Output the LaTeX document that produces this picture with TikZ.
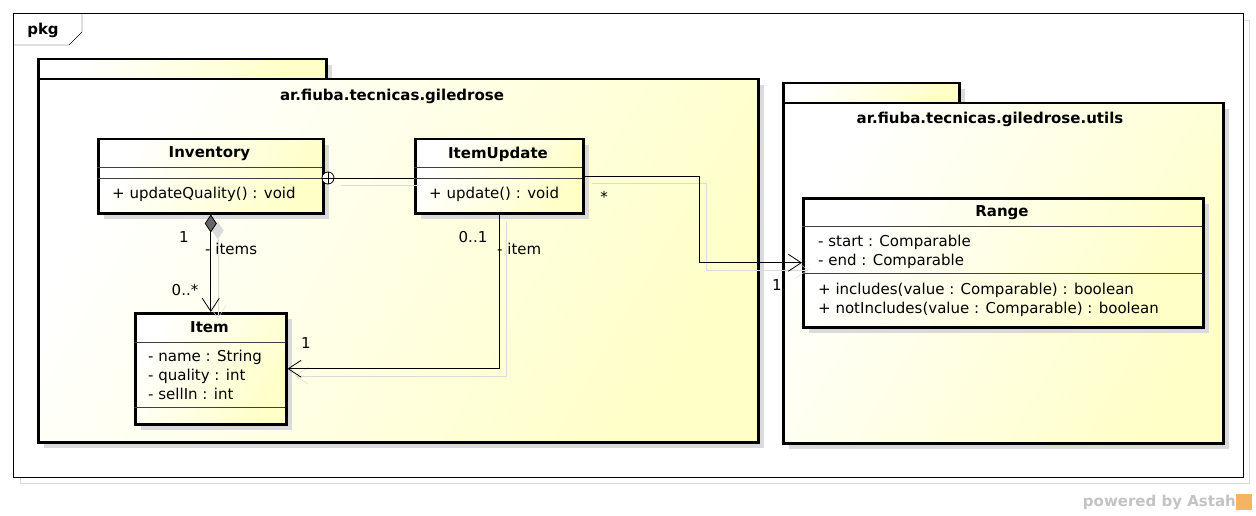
\documentclass[tikz,border=0pt]{standalone}
\usepackage{fontspec}
\setmainfont{DejaVu Sans}
\usetikzlibrary{calc, positioning, shadows, arrows.meta}

\definecolor{astahyellow}{RGB}{255,255,200}
\definecolor{shadowgray}{RGB}{218,218,218}
\definecolor{astahgray}{RGB}{195,195,195}
\definecolor{astahorange}{RGB}{245,180,100}

\newcommand{\diagfont}{\fontsize{15}{18}\selectfont}

\tikzset{
  pkgbox/.style={draw, line width=2.5pt, inner sep=0pt, anchor=north west,
    left color=white, right color=astahyellow, shading angle=60,
    drop shadow={shadow xshift=6pt, shadow yshift=-6pt, fill=shadowgray, opacity=1}},
  classbox/.style={pkgbox},
  divider/.style={line width=0.8pt, black!75},
  member/.style={anchor=west, inner sep=0pt},
  cname/.style={font=\diagfont\bfseries, inner sep=0pt},
  mult/.style={inner sep=0pt},
  link/.style={line width=0.8pt,
    preaction={draw=shadowgray, transform canvas={shift={(7pt,-7pt)}}}},
  assoc/.style={link, -{Straight Barb[length=13pt, width=17pt, line width=0.8pt]}},
  comp/.style={line width=0.8pt,
    preaction={draw=shadowgray, transform canvas={shift={(7pt,-7pt)}},
      {Diamond[length=18pt, width=12pt, fill=shadowgray]}-{Straight Barb[length=13pt, width=17pt, line width=0.8pt]}},
    {Diamond[length=18pt, width=12pt, fill=black!60]}-{Straight Barb[length=13pt, width=17pt, line width=0.8pt]}},
}

\begin{document}
\begin{tikzpicture}[x=1pt, y=-1pt, font=\diagfont]
  \useasboundingbox[fill=white] (0,0) rectangle (1256,516);

  % frame
  \draw[shadowgray] (20,20) rectangle (1249,483);
  \draw[fill=white] (13,13) rectangle (1243,477);
  \draw (13,45) -- (69,45) -- (82,32) -- (82,13);
  \node[cname] (frame-name) at (43,30) {pkg};

  % packages
  \node[pkgbox, minimum width=288, minimum height=20] (main-tab) at (37,58) {};
  \node[pkgbox, minimum width=720, minimum height=363] (main) at (37,78) {};
  \node[cname] (main-name) at (392,96) {ar.fiuba.tecnicas.giledrose};

  \node[pkgbox, minimum width=176, minimum height=20] (utils-tab) at (782,82) {};
  \node[pkgbox, minimum width=440, minimum height=340] (utils) at (782,102) {};
  \node[cname] (utils-name) at (990,119) {ar.fiuba.tecnicas.giledrose.utils};

  % classes
  \node[classbox, minimum width=225, minimum height=74] (inv) at (97,138) {};
  \draw[divider] (97,167) -- (322,167);
  \draw[divider] (97,178) -- (322,178);
  \node[cname] (inv-name) at (209.5,154) {Inventory};
  \node[member] (inv-op) at (112,194) {+ updateQuality() : void};

  \node[classbox, minimum width=168, minimum height=74] (upd) at (414,138) {};
  \draw[divider] (414,167) -- (582,167);
  \draw[divider] (414,178) -- (582,178);
  \node[cname] (upd-name) at (498,154) {ItemUpdate};
  \node[member] (upd-op) at (429,194) {+ update() : void};

  \node[classbox, minimum width=151, minimum height=111] (item) at (134,312) {};
  \draw[divider] (134,342) -- (285,342);
  \draw[divider] (134,407) -- (285,407);
  \node[cname] (item-name) at (209.5,327) {Item};
  \node[member] (item-a1) at (148,357) {- name : String};
  \node[member] (item-a2) at (148,376) {- quality : int};
  \node[member] (item-a3) at (148,394) {- sellIn : int};

  \node[classbox, minimum width=400, minimum height=129] (range) at (802,197) {};
  \draw[divider] (802,226) -- (1202,226);
  \draw[divider] (802,273) -- (1202,273);
  \node[cname] (range-name) at (1002,213) {Range};
  \node[member] (range-a1) at (818,242) {- start : Comparable};
  \node[member] (range-a2) at (818,261) {- end : Comparable};
  \node[member] (range-o1) at (818,290) {+ includes(value : Comparable) : boolean};
  \node[member] (range-o2) at (818,309) {+ notIncludes(value : Comparable) : boolean};

  % connectors
  \node[draw, circle, fill=white, line width=0.8pt, minimum size=12, inner sep=0pt] (nest) at (328,178) {};
  \draw[line width=0.8pt] (nest.north) -- (nest.south) (nest.west) -- (nest.east);
  \draw[link] (nest.east) -- (nest.east -| upd.west);

  \draw[comp] (inv) -- (item);
  \node[mult] (comp-m1) at (184,237) {1};
  \node[mult, anchor=west] (comp-role) at (205,249) {- items};
  \node[mult] (comp-m2) at (185,290) {0..*};

  \draw[assoc] (upd.south) |- (item.east);
  \node[mult] (item-m1) at (473,237) {0..1};
  \node[mult, anchor=west] (item-role) at (497,249) {- item};
  \node[mult] (item-m2) at (306,343) {1};

  \draw[assoc] (upd.east) -- ++(115,0) |- (range.west);
  \node[mult] (range-m1) at (604,197) {*};
  \node[mult] (range-m2) at (777,285) {1};

  % footer
  \node[cname, text=astahgray, anchor=east] (powered) at (1236,502) {powered by Astah};
  \node[fill=astahorange, minimum size=16, inner sep=0pt, anchor=west] (logo) at (powered.east) {};
\end{tikzpicture}
\end{document}
